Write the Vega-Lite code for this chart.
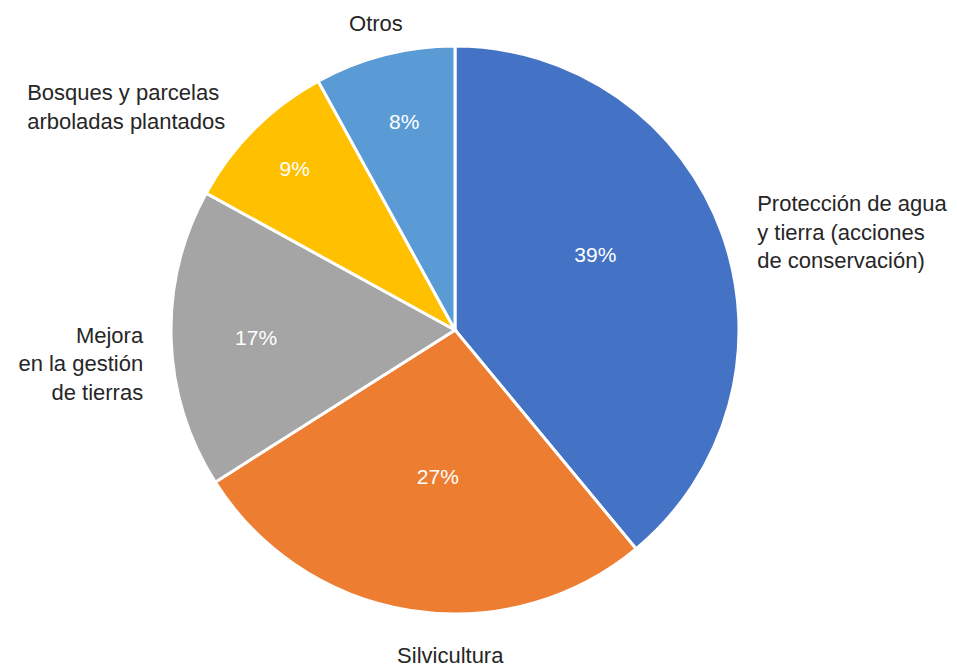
{
  "$schema": "https://vega.github.io/schema/vega-lite/v6.json",
  "width": 910,
  "height": 660,
  "autosize": {"type": "none"},
  "padding": {"left": 0, "top": 0, "right": 47, "bottom": 8},
  "background": "white",
  "view": {"stroke": null},
  "data": {
    "values": [
      {"cat": "Protección de agua\ny tierra (acciones\nde conservación)", "key": "agua", "value": 39, "pct": "39%", "ord": 1},
      {"cat": "Silvicultura", "key": "silv", "value": 27, "pct": "27%", "ord": 2},
      {"cat": "Mejora \nen la gestión \nde tierras", "key": "mejora", "value": 17, "pct": "17%", "ord": 3},
      {"cat": "Bosques y parcelas\narboladas plantados", "key": "bosques", "value": 9, "pct": "9%", "ord": 4},
      {"cat": "Otros", "key": "otros", "value": 8, "pct": "8%", "ord": 5}
    ]
  },
  "encoding": {
    "theta": {"field": "value", "type": "quantitative", "stack": true},
    "order": {"field": "ord", "type": "quantitative"}
  },
  "layer": [
    {
      "mark": {"type": "arc", "outerRadius": 284, "stroke": "white", "strokeWidth": 3},
      "encoding": {
        "color": {
          "field": "key", "type": "nominal", "legend": null,
          "scale": {"domain": ["agua", "silv", "mejora", "bosques", "otros"],
                    "range": ["#4472C4", "#ED7D31", "#A5A5A5", "#FFC000", "#5B9BD5"]}
        }
      }
    },
    {"mark": {"type": "text", "radius": 180, "dx": -29, "dy": -13, "font": "Liberation Sans", "fontSize": 21, "fill": "white"},
     "encoding": {"text": {"condition": {"test": "datum.key == 'agua'", "field": "pct"}, "value": ""}}},
    {"mark": {"type": "text", "radius": 180, "dx": 11, "dy": -30, "font": "Liberation Sans", "fontSize": 21, "fill": "white"},
     "encoding": {"text": {"condition": {"test": "datum.key == 'silv'", "field": "pct"}, "value": ""}}},
    {"mark": {"type": "text", "radius": 180, "dx": -19, "dy": 3, "font": "Liberation Sans", "fontSize": 21, "fill": "white"},
     "encoding": {"text": {"condition": {"test": "datum.key == 'mejora'", "field": "pct"}, "value": ""}}},
    {"mark": {"type": "text", "radius": 180, "dx": -33, "dy": -33, "font": "Liberation Sans", "fontSize": 21, "fill": "white"},
     "encoding": {"text": {"condition": {"test": "datum.key == 'bosques'", "field": "pct"}, "value": ""}}},
    {"mark": {"type": "text", "radius": 180, "dx": -6, "dy": -33, "font": "Liberation Sans", "fontSize": 21, "fill": "white"},
     "encoding": {"text": {"condition": {"test": "datum.key == 'otros'", "field": "pct"}, "value": ""}}},
    {"mark": {"type": "text", "radius": 318, "align": "left", "baseline": "middle", "lineBreak": "\n", "lineHeight": 28.5, "dx": 3, "dy": -18, "font": "Liberation Sans", "fontSize": 22, "fill": "#262626"},
     "encoding": {"text": {"condition": {"test": "datum.key == 'agua'", "field": "cat"}, "value": ""}}},
    {"mark": {"type": "text", "radius": 318, "align": "center", "baseline": "middle", "lineBreak": "\n", "lineHeight": 28.5, "dx": 45, "dy": 12, "font": "Liberation Sans", "fontSize": 22, "fill": "#262626"},
     "encoding": {"text": {"condition": {"test": "datum.key == 'silv'", "field": "cat"}, "value": ""}}},
    {"mark": {"type": "text", "radius": 318, "align": "right", "baseline": "middle", "lineBreak": "\n", "lineHeight": 28.5, "dx": 6, "dy": -4, "font": "Liberation Sans", "fontSize": 22, "fill": "#262626"},
     "encoding": {"text": {"condition": {"test": "datum.key == 'mejora'", "field": "cat"}, "value": ""}}},
    {"mark": {"type": "text", "radius": 318, "align": "left", "baseline": "middle", "lineBreak": "\n", "lineHeight": 28.5, "dx": -203, "dy": -12, "font": "Liberation Sans", "fontSize": 22, "fill": "#262626"},
     "encoding": {"text": {"condition": {"test": "datum.key == 'bosques'", "field": "cat"}, "value": ""}}},
    {"mark": {"type": "text", "radius": 318, "align": "center", "baseline": "middle", "lineBreak": "\n", "lineHeight": 28.5, "dx": 0, "dy": 2, "font": "Liberation Sans", "fontSize": 22, "fill": "#262626"},
     "encoding": {"text": {"condition": {"test": "datum.key == 'otros'", "field": "cat"}, "value": ""}}}
  ]
}
